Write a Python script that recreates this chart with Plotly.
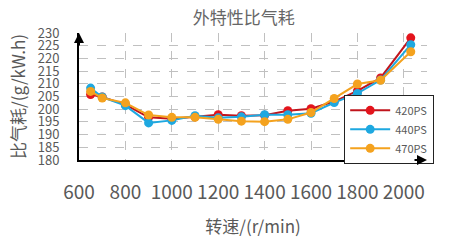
import plotly.graph_objects as go

speeds = [650, 700, 800, 900, 1000, 1100, 1200, 1300, 1400, 1500, 1600, 1700, 1800, 1900, 2030]
ps420 = [205.8, 204.8, 201.8, 196.8, 196.2, 197.0, 197.8, 197.4, 197.6, 199.4, 200.2, 203.0, 207.2, 212.3, 228.1]
ps440 = [208.3, 204.8, 201.4, 194.6, 195.6, 197.4, 196.6, 197.0, 197.8, 197.8, 198.4, 202.6, 206.2, 211.5, 225.4]
ps470 = [207.0, 204.4, 202.5, 197.7, 196.8, 196.8, 196.0, 195.3, 195.1, 196.0, 198.7, 204.2, 209.9, 211.4, 222.6]
series_names = ["420PS", "440PS", "470PS"]
colors = ["#e3141c", "#1ea8e0", "#f4a21e"]
line_colors = ["#c0141c", "#1ea8e0", "#f4a21e"]
x_ticks = [600, 800, 1000, 1200, 1400, 1600, 1800, 2000]
y_ticks = list(range(180, 231, 5))

font_family = "Noto Sans CJK SC, Noto Sans, sans-serif"
grey = "#595959"

fig = go.Figure()
for name, vals, c, lc in zip(series_names, [ps420, ps440, ps470], colors, line_colors):
    fig.add_trace(go.Scatter(
        x=speeds, y=vals, name=name, mode="lines+markers",
        line=dict(color=lc, width=2),
        marker=dict(color=c, size=9),
    ))

fig.update_layout(
    width=460, height=246,
    margin=dict(l=79, r=33, t=33, b=76),
    paper_bgcolor="white", plot_bgcolor="white",
    font=dict(family=font_family, color=grey),
    title=dict(text="外特性比气耗", x=0.53, xanchor="center", y=0.925, yanchor="middle",
               font=dict(size=17, color="#666666")),
    showlegend=True,
    legend=dict(x=0.762, y=-0.03, xanchor="left", yanchor="bottom",
                bgcolor="white", bordercolor="#222222", borderwidth=1,
                font=dict(size=11, color=grey), tracegroupgap=0,
                itemwidth=40),
)
fig.update_xaxes(
    range=[600, 2100], tickvals=x_ticks, ticktext=[str(v) for v in x_ticks],
    showgrid=True, gridcolor="#c0c0c0", griddash="dash", gridwidth=1,
    showline=True, linecolor="black", linewidth=2, zeroline=False,
    tickfont=dict(size=19, color=grey), ticks="", ticklabelstandoff=14,
    title=dict(text="转速/(r/min)", font=dict(size=17, color=grey), standoff=18),
)
fig.update_yaxes(
    range=[180, 230], tickvals=y_ticks, ticktext=[str(v) for v in y_ticks],
    showgrid=True, gridcolor="#c0c0c0", griddash="dash", gridwidth=1,
    showline=True, linecolor="black", linewidth=2, zeroline=False,
    tickfont=dict(size=13, color=grey), ticks="", ticklabelstandoff=15,
    title=dict(text="比气耗/(g/kW.h)", font=dict(size=17, color=grey), standoff=8),
)
# axis arrows
fig.add_annotation(x=1.0, y=0, xref="paper", yref="paper", ax=-14, ay=0,
                   showarrow=True, arrowhead=2, arrowsize=1, arrowwidth=2, arrowcolor="black", text="")
fig.add_annotation(x=0, y=1.0, xref="paper", yref="paper", ax=0, ay=14,
                   showarrow=True, arrowhead=2, arrowsize=1, arrowwidth=2, arrowcolor="black", text="")

fig.write_html("out.html")
